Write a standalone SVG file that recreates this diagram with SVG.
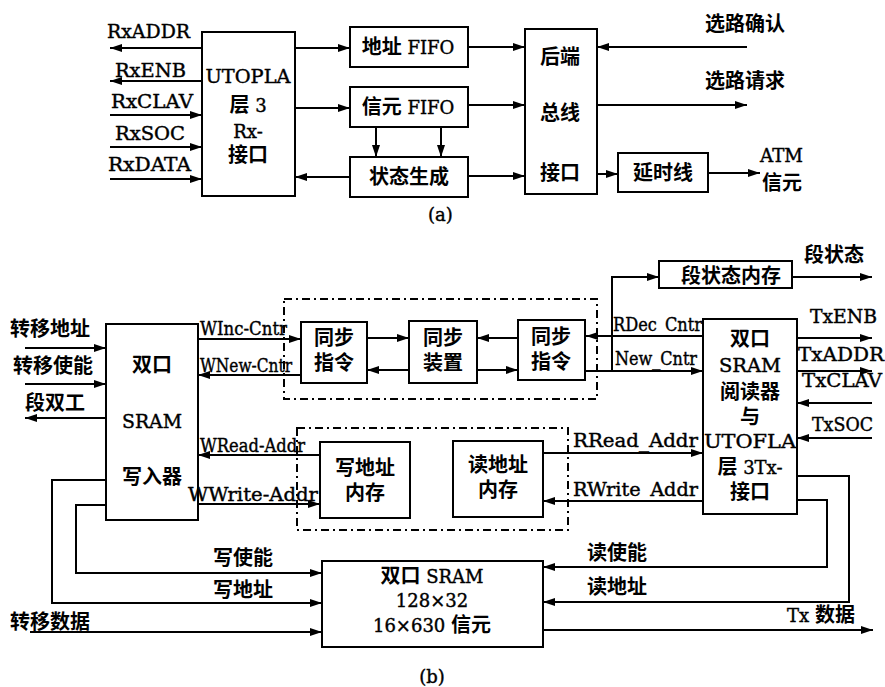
<svg xmlns="http://www.w3.org/2000/svg" width="885" height="687" viewBox="0 0 885 687">
<defs>
<marker id="ah" markerWidth="12" markerHeight="8" refX="12" refY="4" orient="auto" markerUnits="userSpaceOnUse"><path d="M0,0 L12,4 L0,8 z" fill="#000"/></marker>
<style>
.box{fill:#fff;stroke:#000;stroke-width:2}
.ln{fill:none;stroke:#000;stroke-width:2}
.ar{marker-end:url(#ah)}
.dash{fill:none;stroke:#000;stroke-width:2;stroke-dasharray:8 4 2 4}
.cn{font-family:"Noto Sans CJK SC",sans-serif;font-size:20px;font-weight:bold;fill:#000;stroke:none}
.lt{font-family:"DejaVu Serif","Noto Sans CJK SC",serif;font-size:18px;fill:#000;stroke:#000;stroke-width:0.4}
.m{text-anchor:middle}
</style>
</defs>
<rect width="885" height="687" fill="#fff"/>

<!-- ===== (a) ===== -->
<g id="utopla-rx">
<rect class="box" x="202" y="32" width="93" height="164"/>
<text class="lt m" x="248" y="83" textLength="85" lengthAdjust="spacingAndGlyphs">UTOPLA</text>
<text class="lt m" x="248" y="112"><tspan class="cn">层</tspan> 3</text>
<text class="lt m" x="248" y="138">Rx-</text>
<text class="cn m" x="248" y="162">接口</text>
</g>
<g id="addr-fifo">
<rect class="box" x="350" y="27" width="118" height="40"/>
<text class="lt m" x="408" y="54"><tspan class="cn">地址</tspan> FIFO</text>
</g>
<g id="cell-fifo">
<rect class="box" x="350" y="87" width="118" height="40"/>
<text class="lt m" x="408" y="114"><tspan class="cn">信元</tspan> FIFO</text>
</g>
<g id="status-gen">
<rect class="box" x="350" y="157" width="118" height="40"/>
<text class="cn m" x="409" y="184">状态生成</text>
</g>
<g id="backend-bus">
<rect class="box" x="525" y="29" width="72" height="165"/>
<text class="cn m" x="560" y="64">后端</text>
<text class="cn m" x="560" y="120">总线</text>
<text class="cn m" x="560" y="180">接口</text>
</g>
<g id="delay-line">
<rect class="box" x="618" y="153" width="90" height="39"/>
<text class="cn m" x="663" y="180">延时线</text>
</g>

<!-- ===== (b) ===== -->
<g id="seg-status-mem">
<rect class="box" x="659" y="261" width="133" height="27"/>
<text class="cn m" x="731" y="283">段状态内存</text>
</g>
<g id="sram-reader">
<rect class="box" x="703" y="319" width="94" height="195"/>
<text class="cn m" x="750" y="346">双口</text>
<text class="lt m" x="750" y="372" textLength="62" lengthAdjust="spacingAndGlyphs">SRAM</text>
<text class="cn m" x="750" y="399">阅读器</text>
<text class="cn m" x="750" y="424">与</text>
<text class="lt m" x="750" y="448" textLength="92" lengthAdjust="spacingAndGlyphs">UTOFLA</text>
<text class="lt m" x="750" y="474"><tspan class="cn">层</tspan> 3Tx-</text>
<text class="cn m" x="750" y="499">接口</text>
</g>
<g id="sram-writer">
<rect class="box" x="106" y="324" width="92" height="196"/>
<text class="cn m" x="152" y="372">双口</text>
<text class="lt m" x="152" y="428" textLength="60" lengthAdjust="spacingAndGlyphs">SRAM</text>
<text class="cn m" x="152" y="484">写入器</text>
</g>
<g id="sync-group">
<rect class="dash" x="284" y="299" width="313" height="100"/>
</g>
<g id="sync-cmd-left">
<rect class="box" x="301" y="322" width="66" height="61"/>
<text class="cn m" x="334" y="345">同步</text>
<text class="cn m" x="334" y="370">指令</text>
</g>
<g id="sync-device">
<rect class="box" x="409" y="321" width="68" height="62"/>
<text class="cn m" x="443" y="345">同步</text>
<text class="cn m" x="443" y="370">装置</text>
</g>
<g id="sync-cmd-right">
<rect class="box" x="518" y="320" width="67" height="60"/>
<text class="cn m" x="551" y="344">同步</text>
<text class="cn m" x="551" y="369">指令</text>
</g>
<g id="addr-mem-group">
<rect class="dash" x="297" y="428" width="271" height="102"/>
</g>
<g id="write-addr-mem">
<rect class="box" x="320" y="442" width="90" height="76"/>
<text class="cn m" x="365" y="475">写地址</text>
<text class="cn m" x="365" y="500">内存</text>
</g>
<g id="read-addr-mem">
<rect class="box" x="453" y="441" width="90" height="76"/>
<text class="cn m" x="498" y="472">读地址</text>
<text class="cn m" x="498" y="497">内存</text>
</g>
<g id="dual-sram">
<rect class="box" x="322" y="561" width="221" height="86"/>
<text class="lt m" x="432" y="583"><tspan class="cn">双口</tspan> SRAM</text>
<text class="lt m" x="432" y="607">128×32</text>
<text class="lt m" x="432" y="632">16×630 <tspan class="cn">信元</tspan></text>
</g>

<g id="connectors">
<!-- (a) -->
<path class="ln ar" d="M202,48 H110"/>
<path class="ln ar" d="M202,81 H110"/>
<path class="ln ar" d="M110,115 H202"/>
<path class="ln ar" d="M110,147 H202"/>
<path class="ln ar" d="M110,179 H202"/>
<path class="ln ar" d="M295,48 H350"/>
<path class="ln ar" d="M295,108 H350"/>
<path class="ln ar" d="M350,177 H295"/>
<path class="ln ar" d="M376,127 V157"/>
<path class="ln ar" d="M441,127 V157"/>
<path class="ln ar" d="M468,47 H525"/>
<path class="ln ar" d="M468,105 H525"/>
<path class="ln ar" d="M468,176 H525"/>
<path class="ln ar" d="M747,47 H597"/>
<path class="ln ar" d="M597,105 H747"/>
<path class="ln ar" d="M597,174 H618"/>
<path class="ln ar" d="M708,173 H760"/>
<!-- (b) -->
<path class="ln ar" d="M792,277 H872"/>
<path class="ln ar" d="M612,371 V277 H659"/>
<path class="ln ar" d="M703,336 H586"/>
<path class="ln ar" d="M585,371 H703"/>
<path class="ln ar" d="M797,338 H872"/>
<path class="ln ar" d="M797,371 H872"/>
<path class="ln ar" d="M872,403 H797"/>
<path class="ln ar" d="M872,438 H797"/>
<path class="ln ar" d="M367,338 H409"/>
<path class="ln ar" d="M409,370 H367"/>
<path class="ln ar" d="M518,338 H477"/>
<path class="ln ar" d="M477,370 H518"/>
<path class="ln ar" d="M198,339 H301"/>
<path class="ln ar" d="M301,375 H198"/>
<path class="ln ar" d="M25,348 H106"/>
<path class="ln ar" d="M25,384 H106"/>
<path class="ln ar" d="M106,418 H25"/>
<path class="ln ar" d="M320,455 H198"/>
<path class="ln ar" d="M198,504 H320"/>
<path class="ln ar" d="M543,453 H703"/>
<path class="ln ar" d="M703,501 H543"/>
<path class="ln ar" d="M106,505 H76 V573 H322"/>
<path class="ln ar" d="M106,480 H52 V603 H322"/>
<path class="ln ar" d="M30,632 H322"/>
<path class="ln ar" d="M797,500 H827 V567 H543"/>
<path class="ln ar" d="M797,476 H849 V602 H543"/>
<path class="ln ar" d="M543,630 H873"/>
</g>

<g id="labels">
<!-- (a) -->
<text class="lt" x="107" y="38" textLength="83" lengthAdjust="spacingAndGlyphs">RxADDR</text>
<text class="lt" x="115" y="77" textLength="71" lengthAdjust="spacingAndGlyphs">RxENB</text>
<text class="lt" x="111" y="108" textLength="82" lengthAdjust="spacingAndGlyphs">RxCLAV</text>
<text class="lt" x="115" y="140" textLength="70" lengthAdjust="spacingAndGlyphs">RxSOC</text>
<text class="lt" x="108" y="171" textLength="83" lengthAdjust="spacingAndGlyphs">RxDATA</text>
<text class="cn" x="705" y="31">选路确认</text>
<text class="cn" x="705" y="88">选路请求</text>
<text class="lt" x="760" y="162" textLength="43" lengthAdjust="spacingAndGlyphs">ATM</text>
<text class="cn" x="762" y="190">信元</text>
<text class="lt" x="428" y="221">(a)</text>
<!-- (b) -->
<text class="cn" x="804" y="262">段状态</text>
<text class="lt" x="810" y="323" textLength="67" lengthAdjust="spacingAndGlyphs">TxENB</text>
<text class="lt" x="798" y="361" textLength="86" lengthAdjust="spacingAndGlyphs">TxADDR</text>
<text class="lt" x="802" y="387" textLength="80" lengthAdjust="spacingAndGlyphs">TxCLAV</text>
<text class="lt" x="812" y="431" textLength="61" lengthAdjust="spacingAndGlyphs">TxSOC</text>
<text class="lt" x="613" y="331" textLength="89" lengthAdjust="spacingAndGlyphs">RDec_Cntr</text>
<text class="lt" x="615" y="365" textLength="82" lengthAdjust="spacingAndGlyphs">New_Cntr</text>
<text class="lt" x="200" y="335" textLength="87" lengthAdjust="spacingAndGlyphs">WInc-Cntr</text>
<text class="lt" x="200" y="372" textLength="92" lengthAdjust="spacingAndGlyphs">WNew-Cntr</text>
<text class="cn" x="10" y="336">转移地址</text>
<text class="cn" x="13" y="373">转移使能</text>
<text class="cn" x="25" y="410">段双工</text>
<text class="lt" x="200" y="452" textLength="105" lengthAdjust="spacingAndGlyphs">WRead-Addr</text>
<text class="lt" x="188" y="501" textLength="130" lengthAdjust="spacingAndGlyphs">WWrite-Addr</text>
<text class="lt" x="573" y="447" textLength="125" lengthAdjust="spacingAndGlyphs">RRead_Addr</text>
<text class="lt" x="573" y="496" textLength="125" lengthAdjust="spacingAndGlyphs">RWrite_Addr</text>
<text class="cn" x="213" y="565">写使能</text>
<text class="cn" x="213" y="597">写地址</text>
<text class="cn" x="10" y="629">转移数据</text>
<text class="cn" x="587" y="560">读使能</text>
<text class="cn" x="587" y="594">读地址</text>
<text class="lt" x="787" y="622">Tx <tspan class="cn">数据</tspan></text>
<text class="lt m" x="432" y="683">(b)</text>
</g>
</svg>
